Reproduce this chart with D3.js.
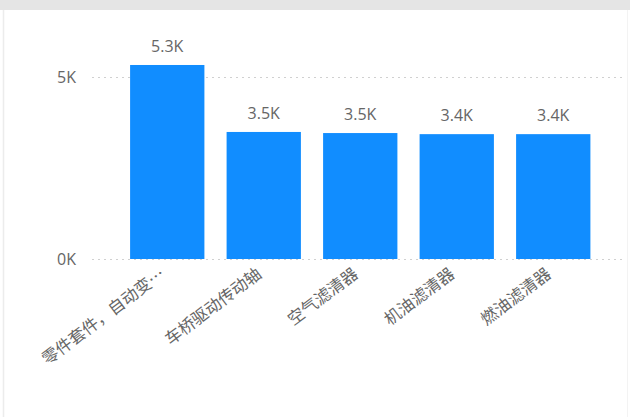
<!DOCTYPE html>
<html>
<head>
<meta charset="utf-8">
<script src="https://cdn.jsdelivr.net/npm/d3@7"></script>
<style>
  body { margin: 0; background: #fff; }
  svg { display: block; }
</style>
</head>
<body>
<script>
const categories = ["零件套件，自动变…", "车桥驱动传动轴", "空气滤清器", "机油滤清器", "燃油滤清器"];
const values = [5330, 3490, 3460, 3430, 3430];
const valueLabels = ["5.3K", "3.5K", "3.5K", "3.4K", "3.4K"];
const yTicks = [0, 5000];
const yTickLabels = ["0K", "5K"];

const width = 630;
const height = 417;
const font = "'Open Sans', 'Noto Sans CJK SC', sans-serif";
const cjkFont = "'Noto Sans CJK SC', sans-serif";

const svg = d3.select("body").append("svg")
  .attr("width", width)
  .attr("height", height);

// grey header strip (title cut off)
svg.append("rect")
  .attr("x", 0).attr("y", 0)
  .attr("width", width).attr("height", 10)
  .attr("fill", "#e5e5e5");

// faint card borders
svg.append("line")
  .attr("x1", 3.5).attr("x2", 3.5).attr("y1", 10).attr("y2", height)
  .attr("stroke", "#ececec").attr("stroke-width", 1.5);
svg.append("line")
  .attr("x1", 627.5).attr("x2", 627.5).attr("y1", 10).attr("y2", height)
  .attr("stroke", "#f3f3f3").attr("stroke-width", 1);

const x = d3.scaleBand()
  .domain(categories)
  .range([119, 601.5])
  .paddingInner(0.23)
  .paddingOuter(0.115);

const y = d3.scaleLinear()
  .domain([0, 5000])
  .range([259, 77]);

// gridlines
svg.append("g")
  .selectAll("line")
  .data(yTicks)
  .join("line")
  .attr("x1", 92)
  .attr("x2", 625)
  .attr("y1", d => y(d) + 0.5)
  .attr("y2", d => y(d) + 0.5)
  .attr("stroke", "#d0d0d0")
  .attr("stroke-width", 1)
  .attr("stroke-dasharray", "2,4");

// y tick labels
svg.append("g")
  .selectAll("text")
  .data(yTicks)
  .join("text")
  .attr("x", 76)
  .attr("y", d => y(d))
  .attr("dy", "0.35em")
  .attr("text-anchor", "end")
  .attr("font-family", font)
  .attr("font-size", 16)
  .attr("fill", "#666")
  .text((d, i) => yTickLabels[i]);

// bars
svg.append("g")
  .selectAll("rect")
  .data(values)
  .join("rect")
  .attr("x", (d, i) => x(categories[i]))
  .attr("y", d => y(d))
  .attr("width", x.bandwidth())
  .attr("height", d => y(0) - y(d))
  .attr("fill", "#118DFF");

// value labels
svg.append("g")
  .selectAll("text")
  .data(values)
  .join("text")
  .attr("x", (d, i) => x(categories[i]) + x.bandwidth() / 2)
  .attr("y", d => y(d) - 13)
  .attr("text-anchor", "middle")
  .attr("font-family", font)
  .attr("font-size", 16)
  .attr("fill", "#666")
  .text((d, i) => valueLabels[i]);

// rotated category labels
svg.append("g")
  .selectAll("text")
  .data(categories)
  .join("text")
  .attr("transform", d => `translate(${x(d) + x.bandwidth() / 2 - 8},${y(0) + 8}) rotate(-37)`)
  .attr("text-anchor", "end")
  .attr("dy", "0.7em")
  .attr("font-family", cjkFont)
  .attr("font-size", 16.5)
  .attr("fill", "#666")
  .text(d => d);
</script>
</body>
</html>
